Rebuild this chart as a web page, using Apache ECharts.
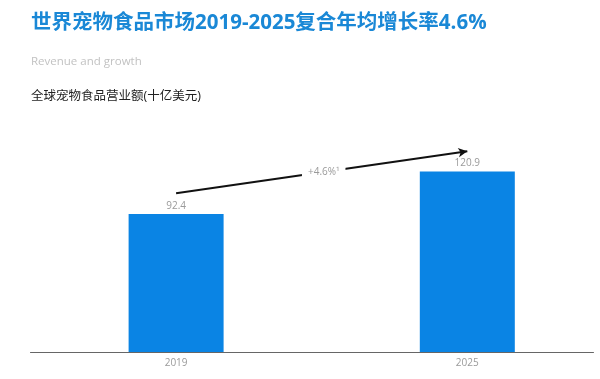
<!DOCTYPE html>
<html>
<head>
<meta charset="utf-8">
<script src="https://cdn.jsdelivr.net/npm/echarts@6/dist/echarts.min.js"></script>
<style>
html,body{margin:0;padding:0;background:#fff;}
#c{width:600px;height:379px;}
</style>
</head>
<body>
<div id="c"></div>
<script>
const years = [2019, 2025];
const revenue = [92.4, 120.9];
const growthLabel = '+4.6%\u00B9';
const arrowStart = [2019, 106.4];
const arrowEnd = [2025, 134.4];

const chart = echarts.init(document.getElementById('c'), null, {renderer: 'canvas'});
const FONT = '"Open Sans", "Noto Sans CJK SC", sans-serif';

const option = {
  animation: false,
  backgroundColor: '#ffffff',
  title: [
    {text: '世界宠物食品市场2019-2025复合年均增长率4.6%', left: 26, top: 8,
     textStyle: {color: '#1a88d6', fontSize: 20.5, fontWeight: 'bold', fontFamily: FONT}},
    {text: 'Revenue and growth', left: 26, top: 51,
     textStyle: {color: '#c2c2c2', fontSize: 11.5, fontWeight: 'normal', fontFamily: FONT}},
    {text: '全球宠物食品营业额(十亿美元)', left: 26, top: 85,
     textStyle: {color: '#222', fontSize: 12.5, fontWeight: 'normal', fontFamily: FONT}}
  ],
  grid: {left: 30.5, right: 6.5, top: 143, bottom: 27, containLabel: false},
  xAxis: {
    type: 'value', min: 2016, max: 2027.6,
    splitLine: {show: false},
    axisTick: {show: false},
    axisLine: {show: true, lineStyle: {color: '#666', width: 1}},
    axisLabel: {customValues: years, color: '#9a9a9a', fontSize: 10, margin: 6, fontFamily: FONT,
                formatter: v => String(v)}
  },
  yAxis: {type: 'value', min: 0, max: 140, show: false, splitLine: {show: false}},
  series: [{
    type: 'bar',
    barWidth: 95,
    data: years.map((y, i) => [y, revenue[i]]),
    itemStyle: {color: '#0a84e4'},
    label: {show: true, position: 'top', color: '#9a9a9a', fontSize: 10, distance: 3, fontFamily: FONT},
    markLine: {
      silent: true,
      symbol: ['none', 'arrow'],
      symbolSize: [7, 9],
      label: {show: false},
      lineStyle: {color: '#111', width: 2, type: 'solid'},
      data: [[{coord: arrowStart}, {coord: arrowEnd}]]
    }
  }]
};
chart.setOption(option);

const p1 = chart.convertToPixel({gridIndex: 0}, arrowStart);
const p2 = chart.convertToPixel({gridIndex: 0}, arrowEnd);
chart.setOption({
  graphic: [{
    type: 'text', z: 100,
    x: (p1[0] + p2[0]) / 2 + 2, y: (p1[1] + p2[1]) / 2,
    style: {text: growthLabel, fill: '#9a9a9a', fontSize: 10, fontFamily: FONT,
            align: 'center', verticalAlign: 'middle',
            backgroundColor: '#fff', padding: [2, 6]}
  }]
});
</script>
</body>
</html>
